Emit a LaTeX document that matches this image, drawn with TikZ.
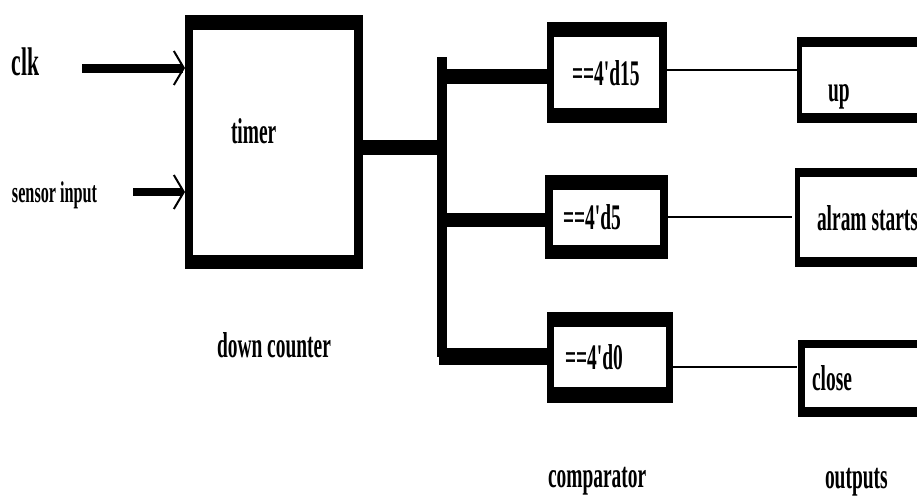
\documentclass[tikz,border=0pt]{standalone}
\usepackage{fontspec}
\usetikzlibrary{arrows.meta}
\newfontfamily\lblfont{Liberation Serif Bold}[FakeStretch=0.54]
\begin{document}
\begin{tikzpicture}[x=1pt,y=-1pt,
  outerbox/.style={rectangle,fill=black,draw=none,inner sep=0pt,outer sep=0pt,anchor=north west},
  innerbox/.style={rectangle,fill=white,draw=none,inner sep=0pt,outer sep=0pt,anchor=north west},
  lbl/.style={font=\lblfont\fontsize{36}{40}\selectfont,anchor=base west,inner sep=0pt,outer sep=0pt},
  bus/.style={line width=#1pt},
  thinwire/.style={line width=2.5pt},
  barb/.style={-{Straight Barb[length=10pt,width=34pt,line width=2pt]}}
]
\clip (0,0) rectangle (917,498);
\fill[white] (0,0) rectangle (917,498);

% timer
\node[outerbox,minimum width=178pt,minimum height=254pt] (timer) at (185,15) {};
\node[innerbox,minimum width=161pt,minimum height=225pt] (timerin) at (193,30) {};
\node[lbl] (timertxt) at (231,143) {timer};
\node[lbl] (downtxt) at (217,357) {down counter};

% inputs
\node[lbl,font=\lblfont\fontsize{40}{44}\selectfont] (clktxt) at (12,75) {clk};
\node[lbl,font=\lblfont\fontsize{30}{34}\selectfont] (sentxt) at (12,202) {sensor input};
\coordinate (clkin) at (82,68);
\coordinate (senin) at (133,192);
\draw[bus=9,barb] (clkin) -- (clkin -| timer.west);
\draw[bus=8,barb] (senin) -- (senin -| timer.west);

% comparators
\node[outerbox,minimum width=120pt,minimum height=101pt] (cmp1) at (547,22) {};
\node[innerbox,minimum width=105pt,minimum height=71pt] (cmp1in) at (554,37) {};
\node[lbl] (c1txt) at (572,85) {==4'd15};

\node[outerbox,minimum width=123pt,minimum height=84pt] (cmp2) at (545,175) {};
\node[innerbox,minimum width=107pt,minimum height=55pt] (cmp2in) at (553,190) {};
\node[lbl] (c2txt) at (563,229) {==4'd5};

\node[outerbox,minimum width=126pt,minimum height=91pt] (cmp3) at (547,312) {};
\node[innerbox,minimum width=112pt,minimum height=60pt] (cmp3in) at (554,327) {};
\node[lbl] (c3txt) at (565,369) {==4'd0};

\node[lbl] (cmptxt) at (548,487) {comparator};

% bus
\coordinate (b0) at (442,147);
\coordinate (bustop) at (442,57);
\coordinate (busbot) at (442,357);
\coordinate (b1) at (442,76);
\coordinate (b2) at (442,220);
\coordinate (b3) at (442,356);
\draw[bus=15] (timer.east |- b0) -- ([xshift=-1pt]b0);
\draw[bus=10] (bustop) -- (busbot);
\draw[bus=15] (b1) -- (b1 -| cmp1.west);
\draw[bus=14] ([xshift=-3pt]b2) -- (b2 -| cmp2.west);
\draw[bus=17] ([xshift=-3pt]b3) -- (b3 -| cmp3.west);

% outputs
\node[outerbox,minimum width=140pt,minimum height=86pt] (out1) at (797,37) {};
\node[innerbox,minimum width=140pt,minimum height=66pt] (out1in) at (802,47) {};
\node[lbl] (o1txt) at (828,101) {up};

\node[outerbox,minimum width=140pt,minimum height=99pt] (out2) at (795,168) {};
\node[innerbox,minimum width=140pt,minimum height=80pt] (out2in) at (800,177) {};
\node[lbl] (o2txt) at (817,230) {alram starts};

\node[outerbox,minimum width=140pt,minimum height=77pt] (out3) at (798,340) {};
\node[innerbox,minimum width=140pt,minimum height=59pt] (out3in) at (805,348) {};
\node[lbl] (o3txt) at (812,390) {close};

\node[lbl] (outtxt) at (825,488) {outputs};

\coordinate (w1) at (797,70);
\coordinate (w2) at (792,217);
\coordinate (w3) at (797,367);
\draw[thinwire] (cmp1.east |- w1) -- (w1);
\draw[thinwire] (cmp2.east |- w2) -- (w2);
\draw[thinwire] (cmp3.east |- w3) -- (w3);
\end{tikzpicture}
\end{document}
